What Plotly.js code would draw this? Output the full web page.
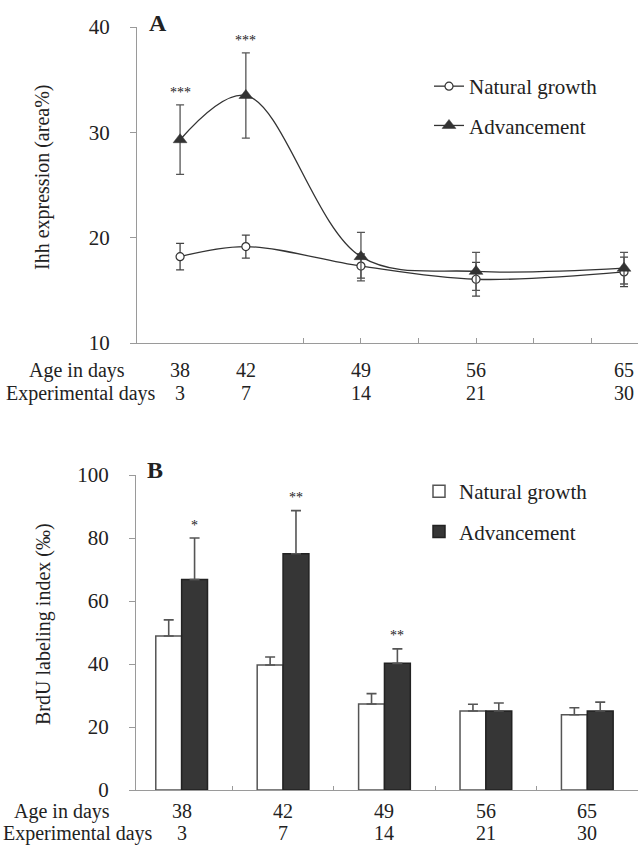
<!DOCTYPE html>
<html>
<head>
<meta charset="utf-8">
<script src="https://cdn.plot.ly/plotly-3.0.1.min.js"></script>
<style>html,body{margin:0;padding:0;background:#fff;}#chart{width:638px;height:845px;}</style>
</head>
<body>
<div id="chart"></div>
<script>
// ---- data ----
var ageDays = [38, 42, 49, 56, 65];
var expDays = [3, 7, 14, 21, 30];
var ageLabels = ['38', '42', '49', '56', '65'];
var expLabels = ['3', '7', '14', '21', '30'];
var rowLabels = ['Age in days', 'Experimental days'];
var seriesNames = ['Natural growth', 'Advancement'];

// Panel A: Ihh expression (area%)
var ihhNatural = [18.2, 19.15, 17.3, 16.05, 16.75];
var ihhNaturalErr = [1.25, 1.1, 1.15, 1.6, 1.4];
var ihhAdvance = [29.3, 33.5, 18.2, 16.8, 17.1];
var ihhAdvanceErr = [3.3, 4.05, 2.3, 1.8, 1.5];
var ihhSig = ['***', '***', '', '', ''];

// Panel B: BrdU labeling index (‰)
var brduNatural = [48.9, 39.7, 27.3, 25.1, 23.9];
var brduNaturalErr = [5.1, 2.5, 3.3, 2.1, 2.2];
var brduAdvance = [66.8, 75.0, 40.2, 25.1, 25.1];
var brduAdvanceErr = [13.2, 13.7, 4.6, 2.5, 2.8];
var brduSig = ['*', '**', '**', '', ''];

// ---- helpers ----
var W = 638, H = 845;
function px(x) { return x / W; }
function py(y) { return 1 - y / H; }
var FONT = '"Liberation Serif", "DejaVu Serif", serif';
var TXT = '#222';
var AX = '#9a9a9a';

var traces = [
  {
    x: expDays, y: ihhNatural, name: seriesNames[0], type: 'scatter', mode: 'lines+markers',
    xaxis: 'x', yaxis: 'y', legend: 'legend', legendgroup: 'a',
    line: {color: '#333', width: 1.3, shape: 'spline', smoothing: 1},
    marker: {symbol: 'circle', size: 8, color: '#fff', line: {color: '#333', width: 1.2}},
    error_y: {type: 'data', array: ihhNaturalErr, visible: true, color: '#444', thickness: 1.3, width: 4}
  },
  {
    x: expDays, y: ihhAdvance, name: seriesNames[1], type: 'scatter', mode: 'lines+markers',
    xaxis: 'x', yaxis: 'y', legend: 'legend', legendgroup: 'b',
    line: {color: '#333', width: 1.3, shape: 'spline', smoothing: 1},
    marker: {symbol: 'triangle-up', size: 12, color: '#333', line: {color: '#333', width: 0.5}},
    error_y: {type: 'data', array: ihhAdvanceErr, visible: true, color: '#555', thickness: 1.3, width: 4}
  },
  {
    x: ageLabels, y: brduNatural, name: seriesNames[0], type: 'bar',
    xaxis: 'x2', yaxis: 'y2', legend: 'legend2', legendgroup: 'c',
    marker: {color: '#ffffff', line: {color: '#555', width: 1.5}},
    error_y: {type: 'data', array: brduNaturalErr, arrayminus: [0, 0, 0, 0, 0], symmetric: false, visible: true, color: '#555', thickness: 1.6, width: 5}
  },
  {
    x: ageLabels, y: brduAdvance, name: seriesNames[1], type: 'bar',
    xaxis: 'x2', yaxis: 'y2', legend: 'legend2', legendgroup: 'd',
    marker: {color: '#363636', line: {color: '#222', width: 1.5}},
    error_y: {type: 'data', array: brduAdvanceErr, arrayminus: [0, 0, 0, 0, 0], symmetric: false, visible: true, color: '#555', thickness: 1.6, width: 5}
  }
];

var annotations = [];
// panel letters
annotations.push({text: '<b>A</b>', xref: 'paper', yref: 'paper', x: px(158), y: py(23), xanchor: 'center', yanchor: 'middle', showarrow: false, font: {family: FONT, size: 24, color: TXT}});
annotations.push({text: '<b>B</b>', xref: 'paper', yref: 'paper', x: px(155), y: py(470), xanchor: 'center', yanchor: 'middle', showarrow: false, font: {family: FONT, size: 24, color: TXT}});
// axis titles
annotations.push({text: 'Ihh expression (area%)', xref: 'paper', yref: 'paper', x: px(42), y: py(178), textangle: -90, xanchor: 'center', yanchor: 'middle', showarrow: false, font: {family: FONT, size: 20, color: TXT}});
annotations.push({text: 'BrdU labeling index (‰)', xref: 'paper', yref: 'paper', x: px(43), y: py(624), textangle: -90, xanchor: 'center', yanchor: 'middle', showarrow: false, font: {family: FONT, size: 20, color: TXT}});

// two-row x labels
var rowsTop = [{y: 370, right: 127}, {y: 393, right: 158}];
var rowsBot = [{y: 811, right: 112}, {y: 833, right: 155}];
var rowVals = [ageLabels, expLabels];
for (var r = 0; r < 2; r++) {
  annotations.push({text: rowLabels[r], xref: 'paper', yref: 'paper', x: px(rowsTop[r].right), y: py(rowsTop[r].y), xanchor: 'right', yanchor: 'middle', showarrow: false, font: {family: FONT, size: 20, color: TXT}});
  annotations.push({text: rowLabels[r], xref: 'paper', yref: 'paper', x: px(rowsBot[r].right), y: py(rowsBot[r].y), xanchor: 'right', yanchor: 'middle', showarrow: false, font: {family: FONT, size: 20, color: TXT}});
  for (var i = 0; i < expDays.length; i++) {
    annotations.push({text: rowVals[r][i], xref: 'x', yref: 'paper', x: expDays[i], y: py(rowsTop[r].y), xanchor: 'center', yanchor: 'middle', showarrow: false, font: {family: FONT, size: 20, color: TXT}});
    annotations.push({text: rowVals[r][i], xref: 'x2', yref: 'paper', x: i, y: py(rowsBot[r].y), xanchor: 'center', yanchor: 'middle', showarrow: false, font: {family: FONT, size: 20, color: TXT}});
  }
}
// significance stars
for (var i = 0; i < expDays.length; i++) {
  if (ihhSig[i]) annotations.push({text: ihhSig[i], xref: 'x', yref: 'y', x: expDays[i], y: ihhAdvance[i] + ihhAdvanceErr[i], xanchor: 'center', yanchor: 'middle', yshift: 12, showarrow: false, font: {family: FONT, size: 14, color: TXT}});
  if (brduSig[i]) annotations.push({text: brduSig[i], xref: 'x2', yref: 'y2', x: i + 0.128, y: brduAdvance[i] + brduAdvanceErr[i], xanchor: 'center', yanchor: 'middle', yshift: 13, showarrow: false, font: {family: FONT, size: 14, color: TXT}});
}

var axisCommon = {showgrid: false, zeroline: false, showline: true, linecolor: AX, linewidth: 1, tickcolor: AX, tickwidth: 1};

var layout = {
  width: W, height: H,
  margin: {l: 0, r: 0, t: 0, b: 0},
  paper_bgcolor: '#fff', plot_bgcolor: 'rgba(0,0,0,0)',
  font: {family: FONT, color: TXT, size: 21},
  barmode: 'group', bargap: 0.49, bargroupgap: 0,
  xaxis: Object.assign({}, axisCommon, {
    domain: [px(137), 1], range: [0.38, 30.85], type: 'linear', anchor: 'y',
    ticks: 'inside', ticklen: 5, tickvals: [10.5, 14, 17.5, 21, 24.5, 28], showticklabels: false
  }),
  yaxis: Object.assign({}, axisCommon, {
    domain: [py(343), py(27)], range: [10, 40], anchor: 'x',
    tickvals: [10, 20, 30, 40], ticks: 'outside', ticklen: 6, ticklabelstandoff: 16,
    tickfont: {family: FONT, size: 21, color: TXT}
  }),
  xaxis2: Object.assign({}, axisCommon, {
    domain: [px(136), 1], range: [-0.45, 4.5], type: 'category', anchor: 'y2',
    ticks: 'inside', ticklen: 4, tickson: 'boundaries', showticklabels: false
  }),
  yaxis2: Object.assign({}, axisCommon, {
    domain: [py(790), py(475)], range: [0, 100], anchor: 'x2',
    tickvals: [0, 20, 40, 60, 80, 100], ticks: 'outside', ticklen: 6, ticklabelstandoff: 16,
    tickfont: {family: FONT, size: 21, color: TXT}
  }),
  legend: {
    x: px(429), y: py(66), xanchor: 'left', yanchor: 'top', bgcolor: 'rgba(0,0,0,0)', borderwidth: 0,
    traceorder: 'grouped', tracegroupgap: 9, font: {family: FONT, size: 21, color: TXT}
  },
  legend2: {
    x: px(419), y: py(471), xanchor: 'left', yanchor: 'top', bgcolor: 'rgba(0,0,0,0)', borderwidth: 0,
    traceorder: 'grouped', tracegroupgap: 10, font: {family: FONT, size: 21, color: TXT}
  },
  showlegend: true,
  annotations: annotations
};

Plotly.newPlot('chart', traces, layout, {displayModeBar: false, staticPlot: true});
</script>
</body>
</html>
